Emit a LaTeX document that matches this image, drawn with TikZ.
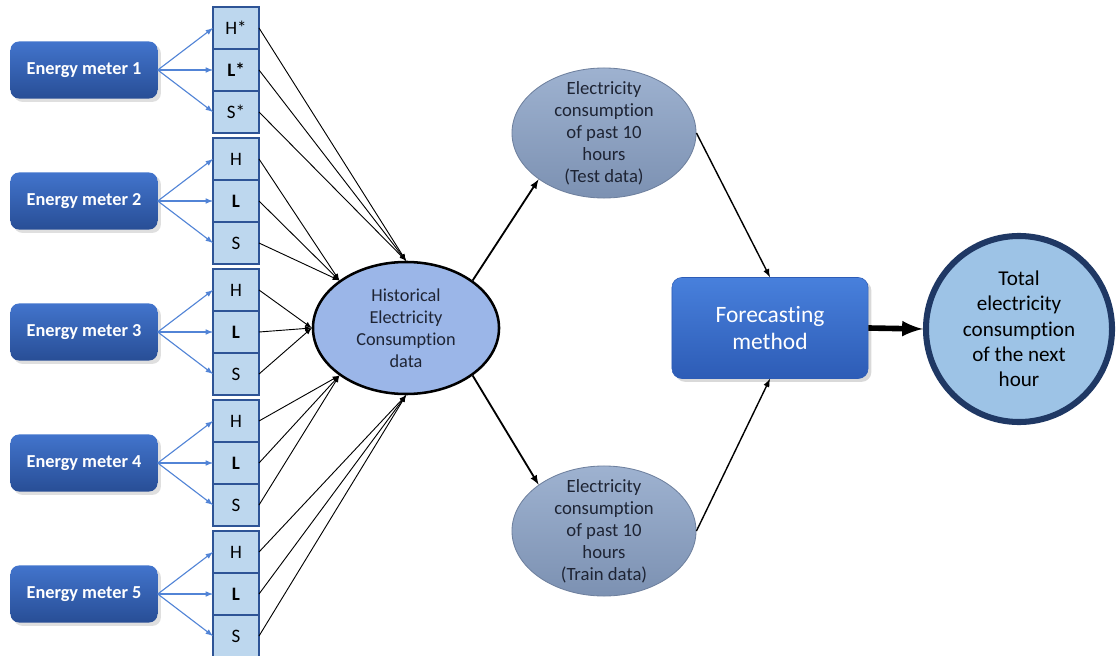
\documentclass[tikz,border=0pt]{standalone}
\usepackage{fontspec}
\setmainfont{Carlito}[Ligatures=NoCommon]
\usepackage{tikz}
\usetikzlibrary{positioning}
\usetikzlibrary{arrows}
\usetikzlibrary{shapes}
\usetikzlibrary{shadows}
\definecolor{meterlight}{RGB}{66,116,204}
\definecolor{meterdark}{RGB}{40,78,150}
\definecolor{cellfill}{RGB}{189,215,238}
\definecolor{celledge}{RGB}{46,84,150}
\definecolor{feedblue}{RGB}{82,132,214}
\definecolor{histfill}{RGB}{155,182,232}
\definecolor{pastlight}{RGB}{158,178,208}
\definecolor{pastdark}{RGB}{124,145,178}
\definecolor{pastedge}{RGB}{110,128,158}
\definecolor{fclight}{RGB}{72,128,220}
\definecolor{fcdark}{RGB}{45,92,182}
\definecolor{outfill}{RGB}{157,195,230}
\definecolor{outedge}{RGB}{31,56,100}
\definecolor{darktext}{RGB}{30,36,52}

\begin{document}
\begin{tikzpicture}[x=0.025cm,y=-0.025cm]
\tikzset{meter/.style={rectangle,rounded corners=6pt,minimum width=3.675cm,minimum height=1.425cm,top color=meterlight,bottom color=meterdark,text=white,font=\fontsize{13}{15}\selectfont\bfseries,drop shadow={opacity=0.25}}}
\tikzset{cell/.style={rectangle,minimum width=1.15cm,minimum height=1.05cm,inner sep=0pt,outer sep=0pt,fill=cellfill,draw=celledge,line width=1pt,font=\fontsize{13.5}{15}\selectfont}}
\tikzset{hist/.style={ellipse,minimum width=4.65cm,minimum height=3.3cm,inner sep=0pt,fill=histfill,draw=black,line width=1.8pt,align=center,text=darktext,font=\fontsize{13}{15.6}\selectfont}}
\tikzset{past/.style={ellipse,minimum width=4.6cm,minimum height=3.25cm,inner sep=0pt,top color=pastlight,bottom color=pastdark,draw=pastedge,line width=0.6pt}}
\tikzset{pasttext/.style={align=center,text=darktext,font=\fontsize{13.3}{15.6}\selectfont}}
\tikzset{method/.style={rectangle,rounded corners=7pt,minimum width=4.9cm,minimum height=2.525cm,top color=fclight,bottom color=fcdark,draw=fcdark,align=center,text=white,font=\fontsize{16.7}{19.8}\selectfont,drop shadow={opacity=0.3}}}
\tikzset{result/.style={circle,minimum size=4.65cm,inner sep=0pt,fill=outfill,draw=outedge,line width=4.3pt,align=center,text=black,font=\fontsize{15}{18}\selectfont}}
\tikzset{feed/.style={draw=feedblue,line width=0.8pt,-latex}}
\tikzset{link/.style={draw=black,line width=0.65pt,-latex}}
\tikzset{flow/.style={draw=black,line width=1.3pt,-latex}}
\useasboundingbox (0,0) rectangle (1117,656);

\node[meter] (meter1) at (84,70) {Energy meter 1};
\node[meter] (meter2) at (84,201) {Energy meter 2};
\node[meter] (meter3) at (84,332) {Energy meter 3};
\node[meter] (meter4) at (84,463) {Energy meter 4};
\node[meter] (meter5) at (84,594) {Energy meter 5};

\node[cell] (l1) at (236,70) {\textbf{L*}};
\node[cell, above=0pt of l1] (h1) {H*};
\node[cell, below=0pt of l1] (s1) {S*};
\node[cell] (l2) at (236,201) {\textbf{L}};
\node[cell, above=0pt of l2] (h2) {H};
\node[cell, below=0pt of l2] (s2) {S};
\node[cell] (l3) at (236,332) {\textbf{L}};
\node[cell, above=0pt of l3] (h3) {H};
\node[cell, below=0pt of l3] (s3) {S};
\node[cell] (l4) at (236,463) {\textbf{L}};
\node[cell, above=0pt of l4] (h4) {H};
\node[cell, below=0pt of l4] (s4) {S};
\node[cell] (l5) at (236,594) {\textbf{L}};
\node[cell, above=0pt of l5] (h5) {H};
\node[cell, below=0pt of l5] (s5) {S};

\node[hist] (hist) at (406,328) {Historical\\Electricity\\Consumption\\data};
\node[past, label={[pasttext]center:{Electricity\\consumption\\of past 10\\hours\\(Test data)}}] (test) at (604,133) {};
\node[past, label={[pasttext]center:{Electricity\\consumption\\of past 10\\hours\\(Train data)}}] (train) at (604,531) {};
\node[method] (fc) at (770,328) {Forecasting\\method};
\node[result] (out) at (1019,329) {Total\\electricity\\consumption\\of the next\\hour};

\path (meter1.east) edge[feed] (h1.west) (meter1.east) edge[feed] (l1.west) (meter1.east) edge[feed] (s1.west);
\path (meter2.east) edge[feed] (h2.west) (meter2.east) edge[feed] (l2.west) (meter2.east) edge[feed] (s2.west);
\path (meter3.east) edge[feed] (h3.west) (meter3.east) edge[feed] (l3.west) (meter3.east) edge[feed] (s3.west);
\path (meter4.east) edge[feed] (h4.west) (meter4.east) edge[feed] (l4.west) (meter4.east) edge[feed] (s4.west);
\path (meter5.east) edge[feed] (h5.west) (meter5.east) edge[feed] (l5.west) (meter5.east) edge[feed] (s5.west);

\path (h1.east) edge[link] (hist.north) (l1.east) edge[link] (hist.north) (s1.east) edge[link] (hist.north);
\path (h2.east) edge[link] (hist.north west) (l2.east) edge[link] (hist.north west) (s2.east) edge[link] (hist.north west);
\path (h3.east) edge[link] (hist.west) (l3.east) edge[link] (hist.west) (s3.east) edge[link] (hist.west);
\path (h4.east) edge[link] (hist.south west) (l4.east) edge[link] (hist.south west) (s4.east) edge[link] (hist.south west);
\path (h5.east) edge[link] (hist.south) (l5.east) edge[link] (hist.south) (s5.east) edge[link] (hist.south);

\draw[flow] (hist.north east) -- (test.south west);
\draw[flow] (hist.south east) -- (train.north west);
\draw[flow, line width=1pt] (test.east) -- (fc.north);
\draw[flow, line width=1pt] (train.east) -- (fc.south);
\draw[line width=4pt,-latex] (fc.east) -- (out.west);
\end{tikzpicture}
\end{document}
